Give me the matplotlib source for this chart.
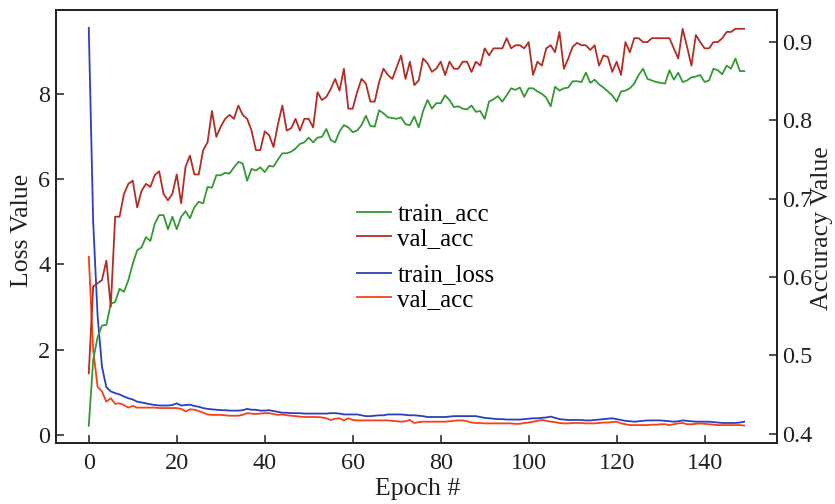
import numpy as np
import matplotlib
matplotlib.use("Agg")
import matplotlib.pyplot as plt

plt.rcParams['font.family'] = ['Liberation Serif', 'DejaVu Serif']
plt.rcParams['mathtext.fontset'] = 'stix'

# values, one per epoch (0..149)
train_acc = [
    0.410, 0.494, 0.523, 0.538, 0.539, 0.566, 0.568, 0.585, 0.581, 0.596,
    0.617, 0.634, 0.638, 0.651, 0.646, 0.668, 0.679, 0.679, 0.661, 0.677,
    0.661, 0.677, 0.684, 0.675, 0.689, 0.696, 0.694, 0.715, 0.714, 0.730,
    0.730, 0.733, 0.732, 0.740, 0.747, 0.745, 0.723, 0.738, 0.736, 0.740,
    0.734, 0.742, 0.741, 0.750, 0.758, 0.758, 0.760, 0.764, 0.770, 0.772,
    0.778, 0.772, 0.778, 0.779, 0.789, 0.775, 0.772, 0.786, 0.794, 0.791,
    0.785, 0.787, 0.794, 0.806, 0.793, 0.792, 0.813, 0.809, 0.804, 0.803,
    0.802, 0.804, 0.795, 0.794, 0.805, 0.791, 0.812, 0.826, 0.815, 0.822,
    0.822, 0.832, 0.826, 0.817, 0.818, 0.815, 0.814, 0.819, 0.811, 0.812,
    0.802, 0.824, 0.827, 0.831, 0.824, 0.832, 0.841, 0.839, 0.842, 0.830,
    0.841, 0.841, 0.837, 0.834, 0.829, 0.818, 0.843, 0.838, 0.841, 0.842,
    0.850, 0.850, 0.849, 0.861, 0.848, 0.852, 0.846, 0.842, 0.837, 0.832,
    0.824, 0.837, 0.838, 0.841, 0.847, 0.858, 0.866, 0.853, 0.851, 0.849,
    0.848, 0.847, 0.864, 0.852, 0.861, 0.849, 0.851, 0.855, 0.856, 0.858,
    0.849, 0.851, 0.866, 0.864, 0.859, 0.870, 0.866, 0.879, 0.863, 0.863,
]

val_acc = [
    0.477, 0.588, 0.592, 0.596, 0.621, 0.562, 0.677, 0.677, 0.706, 0.719,
    0.723, 0.689, 0.710, 0.719, 0.715, 0.730, 0.735, 0.706, 0.698, 0.706,
    0.731, 0.694, 0.741, 0.755, 0.731, 0.731, 0.762, 0.772, 0.812, 0.779,
    0.792, 0.802, 0.807, 0.802, 0.819, 0.807, 0.802, 0.787, 0.762, 0.762,
    0.786, 0.781, 0.766, 0.795, 0.819, 0.787, 0.790, 0.802, 0.787, 0.802,
    0.802, 0.791, 0.836, 0.826, 0.830, 0.840, 0.853, 0.838, 0.866, 0.815,
    0.815, 0.836, 0.853, 0.847, 0.824, 0.824, 0.849, 0.866, 0.858, 0.853,
    0.868, 0.883, 0.853, 0.875, 0.845, 0.851, 0.879, 0.873, 0.862, 0.866,
    0.875, 0.858, 0.875, 0.866, 0.866, 0.875, 0.875, 0.862, 0.875, 0.870,
    0.892, 0.883, 0.892, 0.892, 0.892, 0.905, 0.892, 0.896, 0.896, 0.892,
    0.900, 0.858, 0.875, 0.870, 0.892, 0.896, 0.887, 0.913, 0.866, 0.879,
    0.894, 0.899, 0.896, 0.896, 0.890, 0.896, 0.870, 0.883, 0.881, 0.862,
    0.875, 0.858, 0.900, 0.887, 0.905, 0.905, 0.900, 0.900, 0.905, 0.905,
    0.905, 0.905, 0.905, 0.892, 0.879, 0.917, 0.894, 0.870, 0.909, 0.900,
    0.892, 0.892, 0.900, 0.900, 0.905, 0.913, 0.913, 0.917, 0.917, 0.917,
]

train_loss = [
    9.55, 5.00, 2.80, 1.60, 1.12, 1.02, 0.98, 0.95, 0.90, 0.86,
    0.83, 0.78, 0.76, 0.74, 0.72, 0.70, 0.69, 0.69, 0.69, 0.70,
    0.74, 0.69, 0.70, 0.71, 0.68, 0.66, 0.63, 0.61, 0.60, 0.59,
    0.58, 0.58, 0.57, 0.57, 0.57, 0.58, 0.61, 0.59, 0.59, 0.57,
    0.57, 0.58, 0.56, 0.54, 0.52, 0.52, 0.51, 0.51, 0.51, 0.50,
    0.50, 0.50, 0.50, 0.50, 0.50, 0.51, 0.51, 0.50, 0.48, 0.48,
    0.48, 0.48, 0.46, 0.44, 0.44, 0.45, 0.46, 0.46, 0.48, 0.48,
    0.48, 0.48, 0.47, 0.46, 0.46, 0.45, 0.44, 0.42, 0.42, 0.42,
    0.42, 0.42, 0.43, 0.44, 0.44, 0.44, 0.44, 0.44, 0.44, 0.42,
    0.40, 0.39, 0.38, 0.37, 0.37, 0.36, 0.36, 0.36, 0.36, 0.37,
    0.38, 0.39, 0.39, 0.40, 0.41, 0.43, 0.40, 0.37, 0.36, 0.35,
    0.35, 0.35, 0.35, 0.34, 0.34, 0.35, 0.36, 0.37, 0.38, 0.39,
    0.37, 0.35, 0.33, 0.32, 0.31, 0.32, 0.33, 0.34, 0.34, 0.34,
    0.34, 0.33, 0.32, 0.31, 0.32, 0.34, 0.33, 0.32, 0.31, 0.31,
    0.31, 0.31, 0.30, 0.29, 0.28, 0.28, 0.28, 0.28, 0.29, 0.31,
]

val_loss = [
    4.18, 2.00, 1.13, 1.02, 0.78, 0.86, 0.73, 0.74, 0.70, 0.64,
    0.68, 0.64, 0.64, 0.64, 0.64, 0.64, 0.63, 0.63, 0.63, 0.63,
    0.63, 0.61, 0.55, 0.60, 0.59, 0.56, 0.52, 0.48, 0.47, 0.47,
    0.47, 0.46, 0.45, 0.45, 0.45, 0.47, 0.51, 0.50, 0.49, 0.50,
    0.51, 0.51, 0.49, 0.47, 0.48, 0.46, 0.45, 0.44, 0.43, 0.42,
    0.42, 0.42, 0.42, 0.41, 0.39, 0.35, 0.38, 0.39, 0.34, 0.39,
    0.35, 0.34, 0.34, 0.34, 0.34, 0.34, 0.34, 0.34, 0.34, 0.33,
    0.32, 0.31, 0.32, 0.35, 0.28, 0.30, 0.31, 0.31, 0.31, 0.31,
    0.31, 0.31, 0.32, 0.33, 0.34, 0.34, 0.32, 0.29, 0.28, 0.28,
    0.27, 0.27, 0.27, 0.27, 0.27, 0.27, 0.27, 0.26, 0.26, 0.28,
    0.29, 0.31, 0.33, 0.35, 0.33, 0.31, 0.30, 0.28, 0.27, 0.27,
    0.28, 0.28, 0.28, 0.27, 0.27, 0.27, 0.28, 0.29, 0.29, 0.30,
    0.31, 0.27, 0.25, 0.23, 0.23, 0.23, 0.23, 0.23, 0.24, 0.24,
    0.25, 0.25, 0.23, 0.25, 0.27, 0.28, 0.25, 0.25, 0.26, 0.27,
    0.26, 0.25, 0.24, 0.23, 0.23, 0.23, 0.23, 0.23, 0.23, 0.22,
]

epochs = np.arange(len(train_acc))

x_ticks = [0, 20, 40, 60, 80, 100, 120, 140]
loss_ticks = [0, 2, 4, 6, 8]
acc_ticks = [0.4, 0.5, 0.6, 0.7, 0.8, 0.9]

c_train_acc = '#339933'
c_val_acc = '#b22d24'
c_train_loss = '#2a3fbf'
c_val_loss = '#f5401a'

fig = plt.figure(figsize=(8.35, 5.04), dpi=100)
ax = fig.add_axes([56 / 835, 61 / 504, 721 / 835, 433 / 504])
ax2 = ax.twinx()

l_tl, = ax.plot(epochs, train_loss, color=c_train_loss, lw=1.3, label='train_loss')
l_vl, = ax.plot(epochs, val_loss, color=c_val_loss, lw=1.3, label='val_acc')
l_ta, = ax2.plot(epochs, train_acc, color=c_train_acc, lw=1.3, label='train_acc')
l_va, = ax2.plot(epochs, val_acc, color=c_val_acc, lw=1.3, label='val_acc')

ax.set_xlim(-7.45, 156.45)
ax.set_ylim(-0.19, 9.97)
ax2.set_ylim(0.388, 0.941)

ax.set_xticks(x_ticks)
ax.set_yticks(loss_ticks)
ax2.set_yticks(acc_ticks)
ax2.set_yticklabels([f'{t:.1f}' for t in acc_ticks])

for a in (ax, ax2):
    for sp in a.spines.values():
        sp.set_linewidth(1.3)
        sp.set_color('#222222')

ax.tick_params(axis='both', direction='in', length=6, width=1.1,
               labelsize=17.5, colors='#222222', top=False, right=False)
ax.tick_params(axis='x', pad=7)
ax.tick_params(axis='y', pad=4)
ax2.tick_params(axis='y', direction='in', length=6, width=1.1,
                labelsize=17.5, colors='#222222', pad=4)

fig.text(22 / 835, 1 - 230 / 504, 'Loss Value', rotation=90,
         ha='center', va='center', fontsize=18.5, color='#222222')
fig.text(822 / 835, 1 - 228 / 504, 'Accuracy Value', rotation=90,
         ha='center', va='center', fontsize=18.5, color='#222222')
fig.text(418 / 835, 1 - 489 / 504, 'Epoch #',
         ha='center', va='center', fontsize=18.5, color='#222222')

leg1 = ax2.legend(handles=[l_ta, l_va], loc='upper left',
                  bbox_to_anchor=(357 / 835, 1 - 203 / 504),
                  bbox_transform=fig.transFigure, frameon=False,
                  borderpad=0, borderaxespad=0, handlelength=1.36,
                  handletextpad=0.25, labelspacing=0.08, fontsize=18)
leg2 = ax2.legend(handles=[l_tl, l_vl], loc='upper left',
                  bbox_to_anchor=(357 / 835, 1 - 264 / 504),
                  bbox_transform=fig.transFigure, frameon=False,
                  borderpad=0, borderaxespad=0, handlelength=1.36,
                  handletextpad=0.25, labelspacing=0.08, fontsize=18)
ax2.add_artist(leg1)

fig.savefig('out.png', dpi=100)
